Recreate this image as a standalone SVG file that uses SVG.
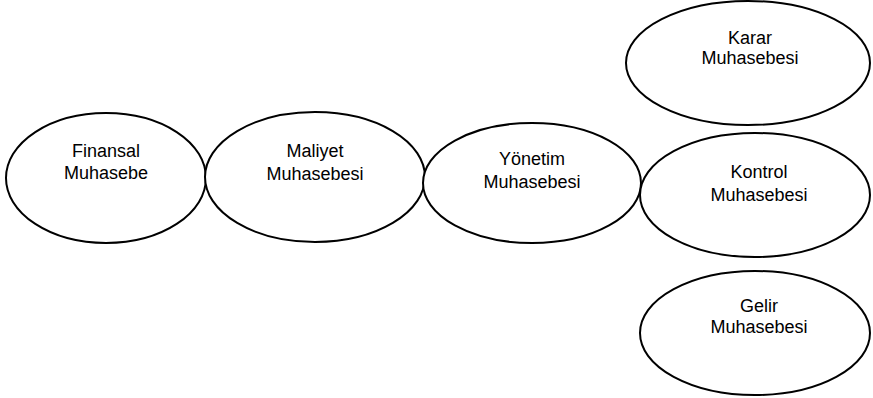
<svg xmlns="http://www.w3.org/2000/svg" width="873" height="398" viewBox="0 0 873 398">
  <style>
    .node ellipse { fill: #ffffff; stroke: #000000; stroke-width: 2; }
    .node text { font-family: "Liberation Sans", Arial, sans-serif; font-size: 18px; fill: #000000; text-anchor: middle; }
  </style>
  <rect width="873" height="398" fill="#ffffff"/>
  <g id="connectors"></g>
  <g id="finansal" class="node">
    <ellipse cx="106" cy="178" rx="100" ry="65"/>
    <text x="106" y="157">Finansal</text>
    <text x="106" y="179">Muhasebe</text>
  </g>
  <g id="maliyet" class="node">
    <ellipse cx="315" cy="177" rx="110" ry="65"/>
    <text x="315" y="157">Maliyet</text>
    <text x="315" y="180">Muhasebesi</text>
  </g>
  <g id="yonetim" class="node">
    <ellipse cx="532" cy="183" rx="109" ry="60"/>
    <text x="532" y="165">Yönetim</text>
    <text x="532" y="188">Muhasebesi</text>
  </g>
  <g id="karar" class="node">
    <ellipse cx="748" cy="63" rx="122" ry="62"/>
    <text x="750" y="44">Karar</text>
    <text x="750" y="64">Muhasebesi</text>
  </g>
  <g id="kontrol" class="node">
    <ellipse cx="755" cy="195" rx="115" ry="62"/>
    <text x="759" y="178">Kontrol</text>
    <text x="759" y="201">Muhasebesi</text>
  </g>
  <g id="gelir" class="node">
    <ellipse cx="755" cy="333" rx="115" ry="62"/>
    <text x="759" y="312">Gelir</text>
    <text x="759" y="333">Muhasebesi</text>
  </g>
</svg>
